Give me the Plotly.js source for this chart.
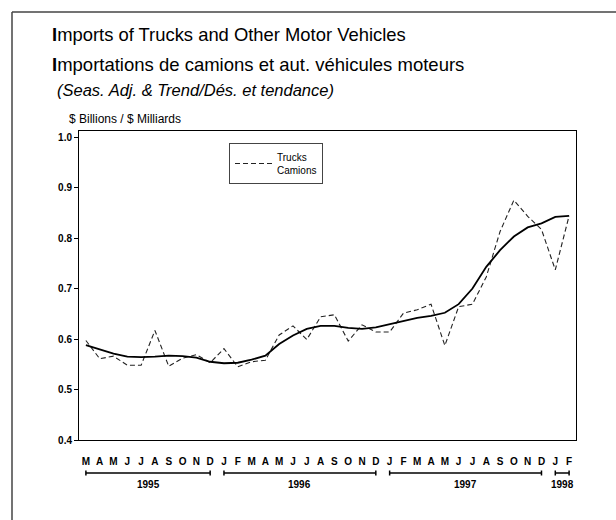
<!DOCTYPE html>
<html>
<head>
<meta charset="utf-8">
<script src="https://cdn.plot.ly/plotly-3.0.1.min.js"></script>
<style>html,body{margin:0;padding:0;background:#fff;}#chart{width:616px;height:520px;}</style>
</head>
<body>
<div id="chart"></div>
<script>
// ---- data ----
const periods = ['Mar 1995','Apr 1995','May 1995','Jun 1995','Jul 1995','Aug 1995','Sep 1995','Oct 1995','Nov 1995','Dec 1995',
  'Jan 1996','Feb 1996','Mar 1996','Apr 1996','May 1996','Jun 1996','Jul 1996','Aug 1996','Sep 1996','Oct 1996','Nov 1996','Dec 1996',
  'Jan 1997','Feb 1997','Mar 1997','Apr 1997','May 1997','Jun 1997','Jul 1997','Aug 1997','Sep 1997','Oct 1997','Nov 1997','Dec 1997',
  'Jan 1998','Feb 1998'];
const monthLetters = ['M','A','M','J','J','A','S','O','N','D',
  'J','F','M','A','M','J','J','A','S','O','N','D',
  'J','F','M','A','M','J','J','A','S','O','N','D',
  'J','F'];
const seasAdj = [0.597,0.561,0.566,0.548,0.548,0.617,0.546,0.562,0.569,0.553,
  0.581,0.545,0.555,0.558,0.608,0.626,0.599,0.644,0.648,0.596,0.628,0.614,
  0.614,0.651,0.658,0.669,0.587,0.664,0.669,0.723,0.813,0.875,0.843,0.817,
  0.737,0.844];
const trend = [0.588,0.580,0.571,0.565,0.564,0.565,0.567,0.566,0.563,0.555,
  0.552,0.553,0.559,0.567,0.590,0.607,0.620,0.626,0.626,0.622,0.620,0.623,
  0.629,0.636,0.642,0.646,0.652,0.669,0.700,0.743,0.776,0.803,0.821,0.829,
  0.842,0.844];
const yearLabels = ['1995','1996','1997','1998'];
const yearStart = ['Mar 1995','Jan 1996','Jan 1997','Jan 1998'];
const yearEnd = ['Dec 1995','Dec 1996','Dec 1997','Feb 1998'];
const yTicks = [0.4,0.5,0.6,0.7,0.8,0.9,1.0];

// ---- geometry helpers (pixel -> paper) ----
const W = 616, H = 520, L = 79, R = 576, T = 131, B = 440;
const px = x => (x - L) / (R - L);
const py = y => (B - y) / (B - T);
const FONT = 'Liberation Sans, Arial, sans-serif';

const traces = [
  {x: periods, y: seasAdj, type: 'scatter', mode: 'lines', name: 'Trucks<br>Camions',
   line: {color: '#222', width: 1.1, dash: '5px,3px'}},
  {x: periods, y: trend, type: 'scatter', mode: 'lines', name: 'Trend', showlegend: false,
   line: {color: '#000', width: 1.8}}
];

const shapes = [
  {type: 'line', xref: 'paper', yref: 'paper', x0: px(12), x1: px(620), y0: py(12), y1: py(12), line: {color: '#444', width: 1.5}},
  {type: 'line', xref: 'paper', yref: 'paper', x0: px(12), x1: px(12), y0: py(12), y1: py(524), line: {color: '#444', width: 1.5}}
];
const annotations = [
  {text: '<b>I</b>mports of Trucks and Other Motor Vehicles', x: px(50), y: py(35), xref: 'paper', yref: 'paper', xanchor: 'left', yanchor: 'middle', showarrow: false, font: {family: FONT, size: 18.4, color: '#000'}},
  {text: '<b>I</b>mportations de camions et aut. véhicules moteurs', x: px(50), y: py(64), xref: 'paper', yref: 'paper', xanchor: 'left', yanchor: 'middle', showarrow: false, font: {family: FONT, size: 18.5, color: '#000'}},
  {text: '<i>(Seas. Adj. &amp; Trend/Dés. et tendance)</i>', x: px(55), y: py(90), xref: 'paper', yref: 'paper', xanchor: 'left', yanchor: 'middle', showarrow: false, font: {family: FONT, size: 16.5, color: '#000'}},
  {text: '$ Billions / $ Milliards', x: px(67), y: py(119), xref: 'paper', yref: 'paper', xanchor: 'left', yanchor: 'middle', showarrow: false, font: {family: FONT, size: 12, color: '#000'}}
];
for (let k = 0; k < yearLabels.length; k++) {
  const i0 = periods.indexOf(yearStart[k]), i1 = periods.indexOf(yearEnd[k]);
  shapes.push({type: 'line', xref: 'x', yref: 'paper', x0: i0, x1: i1, y0: py(473), y1: py(473), line: {color: '#000', width: 1.5}});
  shapes.push({type: 'line', xref: 'x', yref: 'paper', x0: i0, x1: i0, y0: py(470.5), y1: py(475.5), line: {color: '#000', width: 1.5}});
  shapes.push({type: 'line', xref: 'x', yref: 'paper', x0: i1, x1: i1, y0: py(470.5), y1: py(475.5), line: {color: '#000', width: 1.5}});
  annotations.push({text: '<b>' + yearLabels[k] + '</b>', x: (i0 + i1) / 2, y: py(484), xref: 'x', yref: 'paper',
    xanchor: 'center', yanchor: 'middle', showarrow: false, font: {family: FONT, size: 10, color: '#000'}});
}

const layout = {
  width: W, height: H,
  margin: {l: L, r: W - R, t: T, b: H - B, pad: 0},
  paper_bgcolor: '#fff', plot_bgcolor: '#fff',
  showlegend: true,
  legend: {x: px(229), y: py(143), xanchor: 'left', yanchor: 'top', bgcolor: '#fff',
    bordercolor: '#444', borderwidth: 1, font: {family: FONT, size: 10, color: '#000'}, itemwidth: 37, entrywidth: 84, tracegroupgap: 0},
  xaxis: {type: 'category', range: [-0.5, 35.5], tickmode: 'array', tickvals: periods, ticktext: monthLetters,
    showgrid: false, zeroline: false, showline: true, linecolor: '#000', linewidth: 1, mirror: true,
    ticks: '', ticklabelstandoff: 12, tickangle: 0,
    tickfont: {family: FONT, size: 10, color: '#000', weight: 'bold'}},
  yaxis: {range: [0.4, 1.012], tickmode: 'array', tickvals: yTicks, tickformat: '.1f',
    showgrid: false, zeroline: false, showline: true, linecolor: '#000', linewidth: 1, mirror: true,
    ticks: 'outside', ticklen: 4, tickcolor: '#000', tickwidth: 1,
    tickfont: {family: FONT, size: 10, color: '#000', weight: 'bold'}},
  shapes: shapes,
  annotations: annotations,
  hovermode: false
};
Plotly.newPlot('chart', traces, layout, {displayModeBar: false, staticPlot: true});
</script>
</body>
</html>
